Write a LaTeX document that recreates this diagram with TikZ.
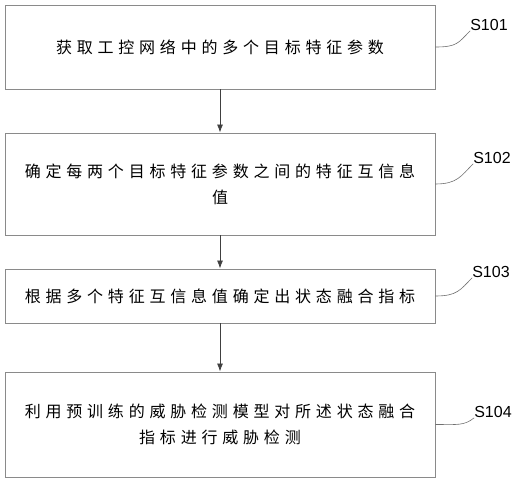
\documentclass[tikz,border=0pt]{standalone}
\usepackage{fontspec}
\setmainfont{Liberation Sans}
\newfontfamily\cjk{Noto Sans CJK SC}[LetterSpace=30]
\usepackage{tikz}
\usetikzlibrary{arrows.meta}
\definecolor{rahmen}{HTML}{8A8A8A}
\definecolor{grau}{HTML}{404040}
\definecolor{hgrau}{HTML}{707070}
\tikzset{
  kasten/.style={draw=rahmen,line width=0.9pt,minimum width=430pt,align=center,inner sep=0pt,
    font=\cjk\fontsize{16}{26}\selectfont},
  pfeil/.style={-{Latex[length=8pt,width=6pt]},grau,line width=0.8pt},
  hilf/.style={hgrau,line width=0.6pt},
  marke/.style={inner sep=0pt,font=\fontsize{16}{18}\selectfont},
}
\begin{document}
\begin{tikzpicture}[x=1pt,y=1pt]
  \useasboundingbox (0,0) rectangle (519,482);
  \node[kasten,minimum height=84pt] (b1) at (220,435) {获取工控网络中的多个目标特征参数};
  \node[kasten,minimum height=102pt] (b2) at (220,298) {确定每两个目标特征参数之间的特征互信息\\值};
  \node[kasten,minimum height=54pt] (b3) at (220,186) {根据多个特征互信息值确定出状态融合指标};
  \node[kasten,minimum height=105pt] (b4) at (220,57.5) {利用预训练的威胁检测模型对所述状态融合\\指标进行威胁检测};
  \node[marke] (s1) at (489,457) {S101};
  \node[marke] (s2) at (492,324) {S102};
  \node[marke] (s3) at (491,210) {S103};
  \node[marke] (s4) at (493,70) {S104};
  \draw[pfeil] (b1.south) -- (b2.north);
  \draw[pfeil] (b2.south) -- (b3.north);
  \draw[pfeil] (b3.south) -- (b4.north);
  \draw[hilf] (b1.east) .. controls +(22,0) and +(-12,-12) .. (s1.south west);
  \draw[hilf] (b2.east) .. controls +(22,0) and +(-12,-12) .. (s2.south west);
  \draw[hilf] (b3.east) .. controls +(22,0) and +(-12,-12) .. (s3.south west);
  \draw[hilf] (b4.east) .. controls +(22,0) and +(-10,-8) .. (s4.south west);
\end{tikzpicture}
\end{document}
